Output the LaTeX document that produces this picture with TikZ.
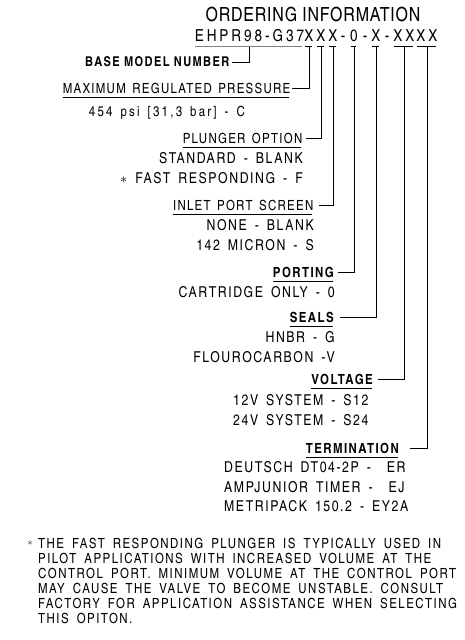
\documentclass[tikz,border=0pt]{standalone}
\usepackage{fontspec}
\setmainfont{texgyreheroscn}[Extension=.otf, UprightFont=*-regular, BoldFont=*-bold, LetterSpace=10]
\usetikzlibrary{positioning}

\begin{document}
\begin{tikzpicture}[x=1pt, y=-1pt,
    every node/.style={inner sep=0pt},
    title/.style={font=\fontsize{19.5}{20}\selectfont\addfontfeature{LetterSpace=4}},
    code/.style={font=\fontsize{16.5}{17}\selectfont\addfontfeature{LetterSpace=18}, text height=12pt, text depth=0pt, inner ysep=5.5pt},
    head/.style={anchor=east, inner ysep=4pt, font={\fontsize{14}{16}\selectfont\addfontfeature{LetterSpace=9}\spaceskip=6.5pt\relax}},
    bhead/.style={head, font=\fontsize{14}{16}\selectfont\bfseries},
    opts/.style={anchor=north east, align=right, font={\fontsize{15}{19.5}\selectfont\addfontfeature{LetterSpace=10.4}\spaceskip=8pt\relax}},
    uline/.style={line width=0.8pt},
    conn/.style={line width=0.8pt}
]
\useasboundingbox (0,0) rectangle (465,640);

\node[title] (title) at (313,14) {ORDERING INFORMATION};

% model number
\node[code] (base) at (249.5,35) {EHPR98-G37};
\node[code] (c1) at (309,35) {X};
\node[code] (c2) at (321,35) {X};
\node[code] (c3) at (333,35) {X};
\node[code] (d1) at (343,35) {-};
\node[code] (c4) at (354,35) {0};
\node[code] (d2) at (365,35) {-};
\node[code] (c5) at (376,35) {X};
\node[code] (d3) at (387,35) {-};
\node[code] (c6) at (404,35) {XX};
\node[code] (c7) at (427,35) {XX};
\draw[uline, gray] (base.south west) -- ([xshift=-2pt]base.south east);
\foreach \c in {c1,c2,c3,c4,c5,c6,c7}
    \draw[uline] ([xshift=0.5pt]\c.south west) -- ([xshift=-2pt]\c.south east);

% fields
\node[bhead, inner ysep=0pt, font=\fontsize{13.5}{16}\selectfont\bfseries] (bmn) at (229.5,62) {BASE MODEL NUMBER};

\node[head] (mrp) at (290.5,88) {MAXIMUM REGULATED PRESSURE};
\node[opts, font={\fontsize{14}{16}\selectfont\addfontfeature{LetterSpace=16}\spaceskip=8pt\relax}] (mrpopt) at (245,105.5) {454 psi [31,3 bar] - C};

\node[head] (plg) at (302.5,138) {PLUNGER OPTION};
\node[opts] (plgopt) at (303,152.5) {STANDARD - BLANK\\$\ast$ FAST RESPONDING - F};

\node[head] (ips) at (313.5,205) {INLET PORT SCREEN};
\node[opts] (ipsopt) at (314,219.5) {NONE - BLANK\\142 MICRON - S};

\node[bhead] (prt) at (334,272) {PORTING};
\node[opts] (prtopt) at (335,286.5) {CARTRIDGE ONLY - 0};

\node[bhead] (sls) at (334,317) {SEALS};
\node[opts] (slsopt) at (335,331.5) {HNBR - G\\FLOUROCARBON -V};

\node[bhead] (vlt) at (373,379) {VOLTAGE};
\node[opts, anchor=north west, align=left] (vltopt) at (233,394.5) {12V SYSTEM - S12\\24V SYSTEM - S24};

\node[bhead] (trm) at (399,448) {TERMINATION};
\node[opts, anchor=north west, align=left] (trmopt) at (224,461.5)
    {DEUTSCH DT04-2P -\ \ ER\\AMPJUNIOR TIMER -\ \ EJ\\METRIPACK 150.2 - EY2A};

\foreach \h in {mrp,plg,ips,prt,sls,vlt,trm}
    \draw[uline] (\h.south west) -- ([xshift=-1.5pt]\h.south east);

% connectors
\draw[conn] (base.south) |- ([xshift=2pt]bmn.east);
\draw[conn] (c1.south) |- ([xshift=1pt]mrp.east);
\draw[conn] (c2.south) |- ([xshift=3pt]plg.east);
\draw[conn] (c3.south) |- ([xshift=5pt]ips.east);
\draw[conn] (c4.south) |- ([xshift=4pt]prt.east);
\draw[conn] (c5.south) |- ([xshift=6pt]sls.east);
\draw[conn] (c6.south) |- ([xshift=5pt]vlt.east);
\draw[conn] (c7.south) |- ([xshift=11pt]trm.east);

% note
\node (star) at (30,543) {$\ast$};
\node[anchor=north west, align=left, font={\fontsize{14}{15}\selectfont\addfontfeature{LetterSpace=10.5}\spaceskip=8pt\relax}] (note) at (38,538)
    {THE FAST RESPONDING PLUNGER IS TYPICALLY USED IN\\
     PILOT APPLICATIONS WITH INCREASED VOLUME AT THE\\
     CONTROL PORT. MINIMUM VOLUME AT THE CONTROL PORT\\
     MAY CAUSE THE VALVE TO BECOME UNSTABLE. CONSULT\\
     FACTORY FOR APPLICATION ASSISTANCE WHEN SELECTING\\
     THIS OPITON.};
\end{tikzpicture}
\end{document}
